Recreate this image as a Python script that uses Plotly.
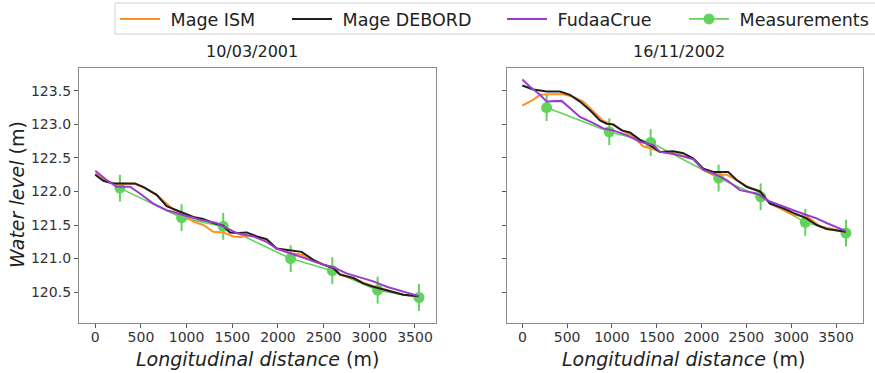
import plotly.graph_objects as go

# ---------------- data ----------------
# 10/03/2001
ism_2001_x = [0, 88, 197, 434, 525, 672, 854, 982, 1073, 1182, 1292, 1401, 1511, 1584, 1730, 1876, 1985, 2131, 2259, 2387, 2606, 2679, 2825, 2934, 3044, 3153, 3263, 3372, 3544]
ism_2001_y = [122.27, 122.18, 122.12, 122.11, 122.06, 121.95, 121.73, 121.65, 121.55, 121.50, 121.40, 121.39, 121.33, 121.32, 121.35, 121.28, 121.15, 121.08, 121.06, 120.96, 120.86, 120.77, 120.71, 120.64, 120.59, 120.55, 120.50, 120.46, 120.44]

deb_2001_x = [0, 88, 197, 434, 525, 672, 781, 890, 982, 1073, 1182, 1292, 1401, 1474, 1566, 1657, 1766, 1876, 1985, 2131, 2259, 2387, 2496, 2606, 2679, 2825, 2934, 3044, 3153, 3263, 3372, 3544]
deb_2001_y = [122.25, 122.16, 122.12, 122.12, 122.07, 121.95, 121.78, 121.72, 121.68, 121.62, 121.59, 121.53, 121.49, 121.39, 121.38, 121.39, 121.33, 121.29, 121.15, 121.12, 121.10, 120.98, 120.91, 120.86, 120.76, 120.71, 120.63, 120.58, 120.54, 120.49, 120.46, 120.44]

fud_2001_x = [0, 124, 234, 380, 489, 635, 781, 963, 1146, 1328, 1438, 1547, 1730, 1876, 1985, 2131, 2314, 2496, 2606, 2752, 2898, 3044, 3190, 3336, 3544]
fud_2001_y = [122.31, 122.17, 122.07, 122.07, 121.97, 121.82, 121.72, 121.65, 121.58, 121.53, 121.45, 121.38, 121.33, 121.25, 121.15, 121.08, 121.00, 120.91, 120.87, 120.78, 120.72, 120.66, 120.58, 120.52, 120.44]

meas_2001_x = [270, 945, 1401, 2139, 2595, 3091, 3544]
meas_2001_y = [122.05, 121.61, 121.48, 121.00, 120.82, 120.53, 120.42]
meas_2001_err = [0.2, 0.2, 0.2, 0.2, 0.2, 0.2, 0.2]

# 16/11/2002
ism_2002_x = [0, 123, 197, 309, 457, 569, 680, 792, 904, 1015, 1127, 1238, 1350, 1443, 1536, 1685, 1908, 2020, 2131, 2280, 2391, 2540, 2652, 2763, 3023, 3172, 3321, 3611]
ism_2002_y = [123.28, 123.37, 123.44, 123.45, 123.45, 123.41, 123.34, 123.19, 123.05, 122.99, 122.91, 122.82, 122.67, 122.64, 122.59, 122.57, 122.49, 122.32, 122.25, 122.25, 122.17, 122.05, 122.00, 121.82, 121.65, 121.63, 121.48, 121.40]

deb_2002_x = [0, 123, 271, 420, 532, 643, 755, 866, 941, 1015, 1108, 1201, 1313, 1424, 1536, 1685, 1796, 1908, 2020, 2131, 2298, 2391, 2503, 2652, 2763, 2912, 3023, 3172, 3284, 3395, 3611]
deb_2002_y = [123.58, 123.52, 123.49, 123.49, 123.44, 123.34, 123.21, 123.06, 123.01, 123.00, 122.91, 122.88, 122.77, 122.69, 122.59, 122.60, 122.57, 122.49, 122.34, 122.29, 122.29, 122.17, 122.07, 122.00, 121.82, 121.75, 121.68, 121.60, 121.50, 121.44, 121.40]

fud_2002_x = [0, 86, 197, 271, 439, 569, 643, 792, 904, 1015, 1164, 1313, 1462, 1536, 1685, 1908, 2020, 2131, 2280, 2428, 2614, 2763, 2912, 3023, 3172, 3284, 3395, 3611]
fud_2002_y = [123.67, 123.56, 123.44, 123.34, 123.35, 123.19, 123.11, 123.02, 122.94, 122.91, 122.84, 122.74, 122.69, 122.59, 122.56, 122.48, 122.32, 122.27, 122.17, 122.02, 121.97, 121.85, 121.77, 121.72, 121.65, 121.60, 121.53, 121.41]

meas_2002_x = [271, 970, 1432, 2190, 2659, 3157, 3611]
meas_2002_y = [123.25, 122.89, 122.73, 122.20, 121.92, 121.54, 121.38]
meas_2002_err = [0.2, 0.2, 0.2, 0.2, 0.2, 0.2, 0.2]

titles = ["10/03/2001", "16/11/2002"]
y_ticks = [120.5, 121.0, 121.5, 122.0, 122.5, 123.0, 123.5]
x_ticks = [0, 500, 1000, 1500, 2000, 2500, 3000, 3500]

# ---------------- styling ----------------
W, H = 875, 373
FONT = "DejaVu Sans"
C_ISM = "#ff9124"
C_DEB = "#1e1e1e"
C_FUD = "#9a3dcc"
C_MEAS = "#62d25c"
NB = "\u00a0"

def px(x):
    return x / W

def py(y):
    return 1 - y / H

fig = go.Figure()

panels = [
    ("x", "y", ism_2001_x, ism_2001_y, deb_2001_x, deb_2001_y, fud_2001_x, fud_2001_y,
     meas_2001_x, meas_2001_y, meas_2001_err, True),
    ("x2", "y2", ism_2002_x, ism_2002_y, deb_2002_x, deb_2002_y, fud_2002_x, fud_2002_y,
     meas_2002_x, meas_2002_y, meas_2002_err, False),
]

for (xa, ya, ix, iy, dx, dy, fx, fy, mx, my, me, leg) in panels:
    fig.add_trace(go.Scatter(x=mx, y=my, mode="lines+markers", name=NB + "Measurements",
                             line=dict(color=C_MEAS, width=1.6),
                             marker=dict(color=C_MEAS, size=11),
                             error_y=dict(type="data", array=me, color=C_MEAS, thickness=2, width=0),
                             xaxis=xa, yaxis=ya, showlegend=leg, legend="legend4"))
    fig.add_trace(go.Scatter(x=ix, y=iy, mode="lines", name=NB + "Mage ISM",
                             line=dict(color=C_ISM, width=2),
                             xaxis=xa, yaxis=ya, showlegend=leg, legend="legend"))
    fig.add_trace(go.Scatter(x=dx, y=dy, mode="lines", name=NB + "Mage DEBORD",
                             line=dict(color=C_DEB, width=2),
                             xaxis=xa, yaxis=ya, showlegend=leg, legend="legend2"))
    fig.add_trace(go.Scatter(x=fx, y=fy, mode="lines", name=NB + "FudaaCrue",
                             line=dict(color=C_FUD, width=2),
                             xaxis=xa, yaxis=ya, showlegend=leg, legend="legend3"))

axis_common = dict(showline=True, mirror=True, linecolor="#8c8c8c", linewidth=1.3,
                   ticks="outside", ticklen=4, tickwidth=1.2, tickcolor="#555",
                   showgrid=False, zeroline=False,
                   tickfont=dict(family=FONT, size=14, color="#333"))

yrange = [120.04, 123.84]
fig.update_layout(
    width=W, height=H,
    margin=dict(l=0, r=0, t=0, b=0),
    paper_bgcolor="white", plot_bgcolor="white",
    font=dict(family=FONT, color="#222"),
    xaxis=dict(domain=[px(79), px(436)], range=[-178, 3730], tickvals=x_ticks,
               anchor="y", ticklabelstandoff=-3, **axis_common),
    yaxis=dict(domain=[py(323), py(68)], range=yrange, tickvals=y_ticks,
               tickformat=".1f", anchor="x", **axis_common),
    xaxis2=dict(domain=[px(507), px(863)], range=[-171, 3801], tickvals=x_ticks,
                anchor="y2", ticklabelstandoff=-3, **axis_common),
    yaxis2=dict(domain=[py(323), py(68)], range=yrange, tickvals=y_ticks,
                showticklabels=False, anchor="x2", **axis_common),
)

# legends (one per entry, inside a common frame)
leg_font = dict(family=FONT, size=17.5, color="#222")
leg_x = [121, 293, 508, 690]
for i, name in enumerate(["legend", "legend2", "legend3", "legend4"]):
    fig.update_layout(**{name: dict(x=px(leg_x[i] - 6), y=py(19), xanchor="left", yanchor="middle",
                                    orientation="h", bgcolor="rgba(0,0,0,0)", borderwidth=0,
                                    font=leg_font, itemwidth=40)})

fig.add_shape(type="rect", xref="paper", yref="paper",
              x0=px(115), x1=px(885), y0=py(34), y1=py(3),
              line=dict(color="#d0d0d0", width=1), fillcolor="rgba(0,0,0,0)", layer="below")

# panel titles
for cx, t in ((252, titles[0]), (679, titles[1])):
    fig.add_annotation(x=px(cx), y=py(52), xref="paper", yref="paper", text=t,
                       xanchor="center", yanchor="middle",
                       showarrow=False, font=dict(family=FONT, size=16, color="#222"))

# axis titles
for cx in (257.5, 683):
    fig.add_annotation(x=px(cx), y=py(359), xref="paper", yref="paper",
                       xanchor="center", yanchor="middle",
                       text="<i>Longitudinal distance</i> (m)", showarrow=False,
                       font=dict(family=FONT, size=19, color="#222"))
fig.add_annotation(x=px(17), y=py(195), xref="paper", yref="paper",
                   xanchor="center", yanchor="middle",
                   text="<i>Water level</i> (m)", showarrow=False, textangle=-90,
                   font=dict(family=FONT, size=19, color="#222"))

fig.write_html("out.html")
